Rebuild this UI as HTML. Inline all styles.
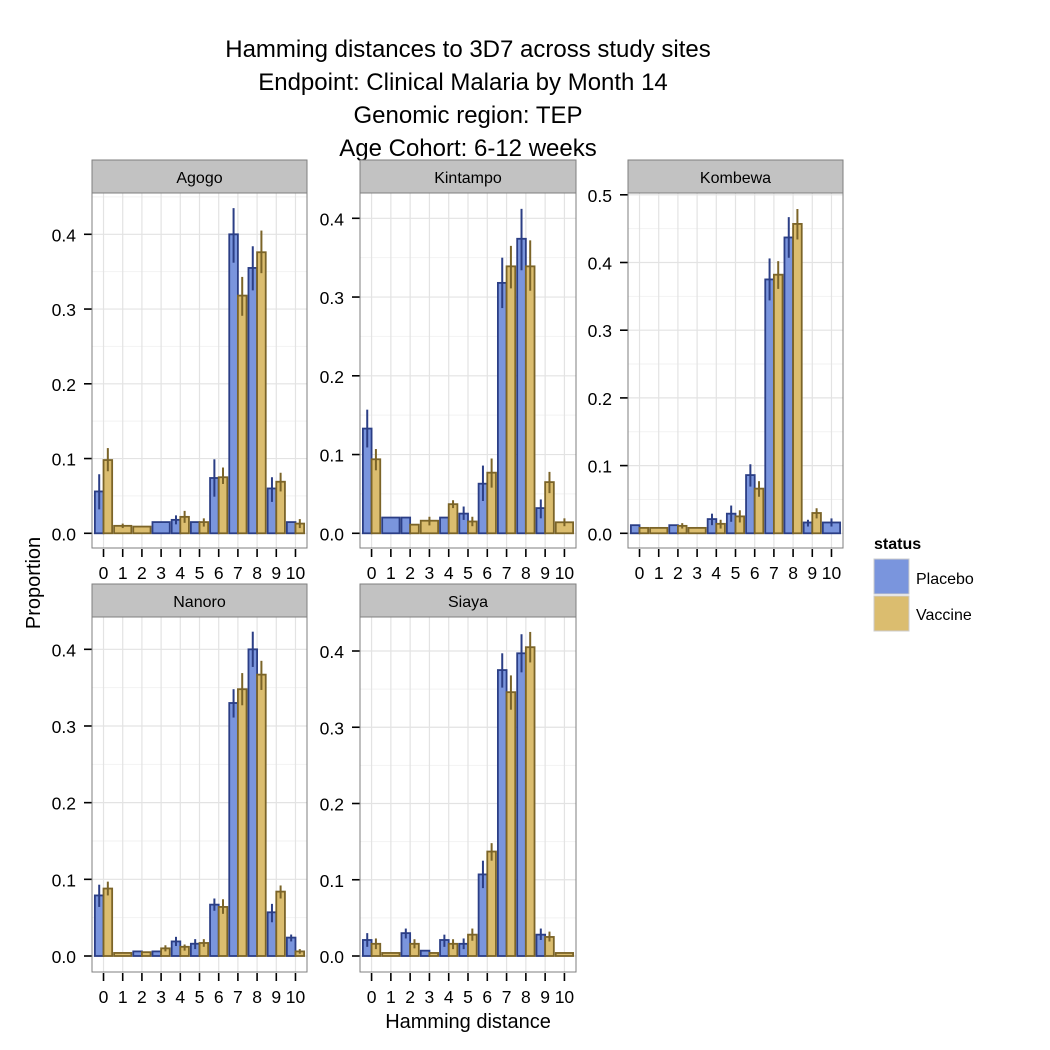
<!DOCTYPE html>
<html><head><meta charset="utf-8"><style>
html,body{margin:0;padding:0;background:#fff;}
svg{display:block;font-family:"Liberation Sans",Arial,sans-serif;}
</style></head><body>
<svg id="chart" width="1050" height="1050" viewBox="0 0 1050 1050">
<rect x="0" y="0" width="1050" height="1050" fill="#fff"/>
<g font-size="24" text-anchor="middle" fill="#000">
<text x="468" y="57">Hamming distances to 3D7 across study sites</text>
<text x="463" y="90">Endpoint: Clinical Malaria by Month 14</text>
<text x="468" y="123">Genomic region: TEP</text>
<text x="468" y="156">Age Cohort: 6-12 weeks</text>
</g>
<text x="40" y="583" font-size="20" text-anchor="middle" transform="rotate(-90 40 583)">Proportion</text>
<text x="468" y="1028" font-size="20" text-anchor="middle">Hamming distance</text>
<g>
<text x="874" y="549" font-size="16" font-weight="bold">status</text>
<g><rect x="874" y="559" width="35" height="35" fill="#7A95DD" stroke="#ccc"/><text x="916" y="584" font-size="16">Placebo</text></g>
<g><rect x="874" y="596" width="35" height="35" fill="#DBBD6F" stroke="#ccc"/><text x="916" y="620" font-size="16">Vaccine</text></g>
</g>
<g id="panels"></g>
</svg>
<script>
const categories = [0,1,2,3,4,5,6,7,8,9,10];
const sites = ["Agogo","Kintampo","Kombewa","Nanoro","Siaya"];
// values: null = group absent
const agogoPlacebo = [0.056,null,null,0.015,0.018,0.015,0.074,0.400,0.355,0.060,0.015];
const agogoPlaceboLo = [0.032,null,null,0.015,0.012,0.015,0.049,0.362,0.325,0.042,0.015];
const agogoPlaceboHi = [0.079,null,null,0.015,0.024,0.015,0.099,0.435,0.384,0.075,0.015];
const agogoVaccine = [0.098,0.010,0.009,null,0.022,0.015,0.075,0.318,0.376,0.069,0.013];
const agogoVaccineLo = [0.083,0.007,0.009,null,0.014,0.009,0.066,0.291,0.348,0.056,0.007];
const agogoVaccineHi = [0.114,0.013,0.009,null,0.030,0.020,0.088,0.343,0.405,0.081,0.019];
const kintampoPlacebo = [0.133,0.020,0.020,null,0.020,0.025,0.063,0.318,0.374,0.032,null];
const kintampoPlaceboLo = [0.109,0.020,0.020,null,0.020,0.017,0.041,0.286,0.334,0.019,null];
const kintampoPlaceboHi = [0.157,0.020,0.020,null,0.020,0.034,0.086,0.350,0.412,0.043,null];
const kintampoVaccine = [0.094,null,0.011,0.016,0.037,0.015,0.077,0.339,0.339,0.065,0.014];
const kintampoVaccineLo = [0.080,null,0.011,0.010,0.032,0.009,0.058,0.311,0.308,0.051,0.009];
const kintampoVaccineHi = [0.107,null,0.011,0.021,0.042,0.021,0.095,0.365,0.372,0.078,0.019];
const kombewaPlacebo = [0.012,null,0.012,null,0.021,0.029,0.086,0.375,0.437,0.016,0.016];
const kombewaPlaceboLo = [0.012,null,0.012,null,0.012,0.017,0.069,0.344,0.407,0.010,0.010];
const kombewaPlaceboHi = [0.012,null,0.012,null,0.029,0.041,0.102,0.406,0.467,0.020,0.022];
const kombewaVaccine = [0.008,0.008,0.011,0.008,0.014,0.025,0.066,0.382,0.457,0.030,null];
const kombewaVaccineLo = [0.008,0.008,0.007,0.008,0.007,0.016,0.054,0.361,0.434,0.022,null];
const kombewaVaccineHi = [0.008,0.008,0.015,0.008,0.020,0.034,0.077,0.402,0.479,0.037,null];
const nanoroPlacebo = [0.079,null,0.006,0.006,0.019,0.016,0.067,0.330,0.400,0.057,0.024];
const nanoroPlaceboLo = [0.064,null,0.006,0.006,0.013,0.009,0.059,0.311,0.377,0.044,0.019];
const nanoroPlaceboHi = [0.093,null,0.006,0.006,0.025,0.022,0.075,0.348,0.423,0.068,0.028];
const nanoroVaccine = [0.088,0.004,0.005,0.010,0.012,0.017,0.064,0.348,0.367,0.084,0.006];
const nanoroVaccineLo = [0.079,0.004,0.005,0.006,0.007,0.012,0.055,0.327,0.347,0.075,0.003];
const nanoroVaccineHi = [0.097,0.004,0.005,0.014,0.015,0.022,0.074,0.369,0.385,0.092,0.009];
const siayaPlacebo = [0.021,null,0.030,0.007,0.021,0.016,0.107,0.375,0.397,0.028,null];
const siayaPlaceboLo = [0.012,null,0.023,0.007,0.012,0.009,0.089,0.352,0.372,0.021,null];
const siayaPlaceboHi = [0.030,null,0.036,0.007,0.028,0.023,0.125,0.397,0.422,0.036,null];
const siayaVaccine = [0.016,0.004,0.016,0.004,0.016,0.028,0.137,0.346,0.405,0.025,0.004];
const siayaVaccineLo = [0.009,0.004,0.010,0.004,0.009,0.020,0.125,0.323,0.385,0.019,0.004];
const siayaVaccineHi = [0.023,0.004,0.022,0.004,0.022,0.036,0.148,0.368,0.425,0.032,0.004];
const yTicksTop = [0,0.1,0.2,0.3,0.4];
const yTicksKombewa = [0,0.1,0.2,0.3,0.4,0.5];
const yTickLabels = ["0.0","0.1","0.2","0.3","0.4","0.5"];

const panelsData = [
 {name:"Agogo",p:agogoPlacebo,pl:agogoPlaceboLo,ph:agogoPlaceboHi,v:agogoVaccine,vl:agogoVaccineLo,vh:agogoVaccineHi,ticks:yTicksTop,x0:92,x1:307,y0:193,y1:548,zero:533.3,per:747.5,strip:160},
 {name:"Kintampo",p:kintampoPlacebo,pl:kintampoPlaceboLo,ph:kintampoPlaceboHi,v:kintampoVaccine,vl:kintampoVaccineLo,vh:kintampoVaccineHi,ticks:yTicksTop,x0:360,x1:576,y0:193,y1:548,zero:533.3,per:787.5,strip:160},
 {name:"Kombewa",p:kombewaPlacebo,pl:kombewaPlaceboLo,ph:kombewaPlaceboHi,v:kombewaVaccine,vl:kombewaVaccineLo,vh:kombewaVaccineHi,ticks:yTicksKombewa,x0:628,x1:843,y0:193,y1:548,zero:533.3,per:677,strip:160},
 {name:"Nanoro",p:nanoroPlacebo,pl:nanoroPlaceboLo,ph:nanoroPlaceboHi,v:nanoroVaccine,vl:nanoroVaccineLo,vh:nanoroVaccineHi,ticks:yTicksTop,x0:92,x1:307,y0:617,y1:972,zero:956,per:766.7,strip:584},
 {name:"Siaya",p:siayaPlacebo,pl:siayaPlaceboLo,ph:siayaPlaceboHi,v:siayaVaccine,vl:siayaVaccineLo,vh:siayaVaccineHi,ticks:yTicksTop,x0:360,x1:576,y0:617,y1:972,zero:956,per:762.5,strip:584}
];
const NS="http://www.w3.org/2000/svg";
const root=document.getElementById("panels");
function mk(tag,attrs,parent){const e=document.createElementNS(NS,tag);for(const k in attrs)e.setAttribute(k,attrs[k]);parent.appendChild(e);return e;}
panelsData.forEach(P=>{
 const g=mk("g",{},root);
 
 
 const xs=i=>P.x0+(0.6+i)*(P.x1-P.x0)/11.2;
 const unit=(P.x1-P.x0)/11.2;
 const ys=v=>P.zero-v*P.per;
 const st=mk("rect",{x:P.x0,y:P.strip,width:P.x1-P.x0,height:P.y0-P.strip,fill:"#c2c2c2",stroke:"#7f7f7f","stroke-width":1},g);
 
 
 const stt=mk("text",{x:(P.x0+P.x1)/2,y:P.strip+23,"font-size":16,"text-anchor":"middle"},g);
 stt.textContent=P.name;
 
 
 const step=P.ticks[1]-P.ticks[0];
 for(let k=0;k<P.ticks.length;k++){
  const mv=P.ticks[k]+step/2; const my=ys(mv);
  if(my>P.y0) mk("line",{x1:P.x0,x2:P.x1,y1:my,y2:my,stroke:"#f2f2f2","stroke-width":1},g);
  const ty=ys(P.ticks[k]);
  mk("line",{x1:P.x0,x2:P.x1,y1:ty,y2:ty,stroke:"#e3e3e3","stroke-width":1.2},g);
  mk("line",{x1:P.x0-8,x2:P.x0,y1:ty,y2:ty,stroke:"#000","stroke-width":1.6},g);
  const tl=mk("text",{x:P.x0-16,y:ty+7,"font-size":17.5,"text-anchor":"end"},g);
  tl.textContent=yTickLabels[k];
  
  
 }
 categories.forEach((c,i)=>{
  const x=xs(i);
  mk("line",{x1:x,x2:x,y1:P.y0,y2:P.y1,stroke:"#e3e3e3","stroke-width":1.2},g);
  mk("line",{x1:x,x2:x,y1:P.y1+1,y2:P.y1+9,stroke:"#000","stroke-width":1.6},g);
  const xl=mk("text",{x:x,y:P.y1+31,"font-size":17.5,"text-anchor":"middle"},g);
  xl.textContent=String(c);
  
  
 });
 categories.forEach((c,i)=>{
  const series=[{v:P.p[i],lo:P.pl[i],hi:P.ph[i],f:"#7A95DD",s:"#2B3E85",n:"placebo"},{v:P.v[i],lo:P.vl[i],hi:P.vh[i],f:"#DBBD6F",s:"#7B6428",n:"vaccine"}];
  const present=series.filter(s=>s.v!==null);
  const w=0.9*unit/present.length;
  present.forEach((s,j)=>{
   const bx=xs(i)-0.45*unit+j*w;
   const b=mk("rect",{x:bx,y:ys(s.v),width:w,height:Math.max(0.5,ys(0)-ys(s.v)),fill:s.f,stroke:s.s,"stroke-width":1.8},g);
   
   
   if(s.hi>s.lo){
    const e=mk("line",{x1:bx+w/2,x2:bx+w/2,y1:ys(s.hi),y2:ys(s.lo),stroke:s.s,"stroke-width":2},g);
    
    
   }
  });
 });
 const br=mk("rect",{x:P.x0,y:P.y0,width:P.x1-P.x0,height:P.y1-P.y0,fill:"none",stroke:"#7f7f7f","stroke-width":1},g);
 
 
});
</script>
</body></html>
